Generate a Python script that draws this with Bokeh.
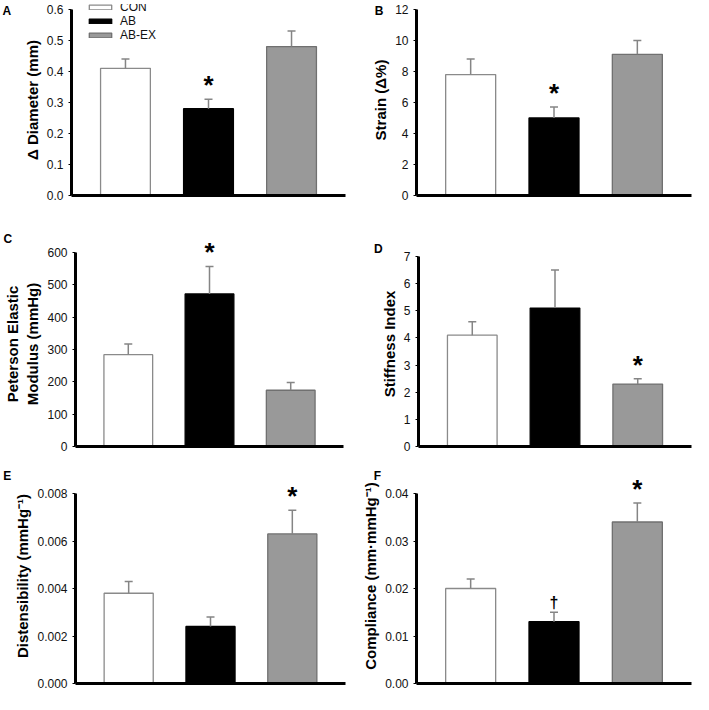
from bokeh.plotting import figure
from bokeh.models import (ColumnDataSource, Range1d, FixedTicker, PrintfTickFormatter,
                          Whisker, TeeHead, Legend, LegendItem, LinearAxis)
from bokeh.layouts import column, row
from bokeh.embed import file_html
from bokeh.resources import INLINE
from bokeh.core.properties import value

# ---------------- data ----------------
groups = ["CON", "AB", "AB-EX"]

diameter = [0.41, 0.28, 0.48]
diameter_err = [0.03, 0.03, 0.05]
diameter_sig = ["", "*", ""]
diameter_ticks = [0.0, 0.1, 0.2, 0.3, 0.4, 0.5, 0.6]

strain = [7.8, 5.0, 9.1]
strain_err = [1.0, 0.7, 0.9]
strain_sig = ["", "*", ""]
strain_ticks = [0, 2, 4, 6, 8, 10, 12]

peterson = [284, 472, 174]
peterson_err = [33, 85, 24]
peterson_sig = ["", "*", ""]
peterson_ticks = [0, 100, 200, 300, 400, 500, 600]

stiffness = [4.1, 5.1, 2.3]
stiffness_err = [0.5, 1.4, 0.2]
stiffness_sig = ["", "", "*"]
stiffness_ticks = [0, 1, 2, 3, 4, 5, 6, 7]

distensibility = [0.0038, 0.0024, 0.0063]
distensibility_err = [0.0005, 0.0004, 0.0010]
distensibility_sig = ["", "", "*"]
distensibility_ticks = [0.000, 0.002, 0.004, 0.006, 0.008]

compliance = [0.0200, 0.0130, 0.0340]
compliance_err = [0.0020, 0.0020, 0.0040]
compliance_sig = ["", "\u2020", "*"]
compliance_ticks = [0.00, 0.01, 0.02, 0.03, 0.04]

# ---------------- style ----------------
FONT = "Liberation Sans"
FILL = ["#ffffff", "#000000", "#999999"]
LINE = ["#8a8a8a", "#000000", "#707070"]
ERR_COLOR = "#858585"
MARK_STYLE = {"*": ("26px", -14), "\u2020": ("16px", -10)}
X0, X1 = 0.35, 3.65
NBSP_W = 0.2778 * 12      # width of a no-break space at 12px


def panel(letter, ytitle, vals, errs, sig, ticks, fmt, W, H, bl, br, ft, bt, bb,
          letter_at, letter_standoff, legend=False):
    # ft: frame top, bt: pixel row of the top tick, bb: bottom border
    fh = H - bb - ft
    axis_h = H - bb - bt
    y_end = ticks[0] + (ticks[-1] - ticks[0]) * fh / axis_h
    p = figure(width=W, height=H, x_range=Range1d(X0, X1),
               y_range=Range1d(ticks[0], y_end),
               output_backend="svg", toolbar_location=None,
               min_border_left=bl, min_border_right=br,
               min_border_top=ft, min_border_bottom=bb)
    p.outline_line_color = None
    p.xgrid.visible = False
    p.ygrid.visible = False
    p.background_fill_color = "white"

    x = list(range(1, len(groups) + 1))
    upper = [v + e for v, e in zip(vals, errs)]
    src = ColumnDataSource(dict(x=x, top=vals, upper=upper, group=groups,
                                fill=FILL, line=LINE))
    r = p.vbar(x="x", top="top", bottom=0, width=0.6, source=src,
               fill_color="fill", line_color="line", line_width=1.3)

    w = Whisker(base="x", lower="top", upper="upper", source=src, dimension="height",
                line_color=ERR_COLOR, line_width=1.5,
                upper_head=TeeHead(size=8, line_color=ERR_COLOR, line_width=1.5),
                lower_head=None, level="glyph")
    p.add_layout(w)

    mx, my, mt, ms, mo = [], [], [], [], []
    for i, s in enumerate(sig):
        if s:
            mx.append(x[i]); my.append(upper[i]); mt.append(s)
            ms.append(MARK_STYLE[s][0]); mo.append(MARK_STYLE[s][1])
    if mx:
        msrc = ColumnDataSource(dict(x=mx, y=my, t=mt, size=ms, off=mo))
        p.text(x="x", y="y", text="t", source=msrc, text_font=value(FONT),
               text_font_style="bold", text_font_size="size", y_offset="off",
               text_align="center", text_baseline="alphabetic", text_color="black")

    ya = p.yaxis[0]
    ya.ticker = FixedTicker(ticks=ticks)
    ya.bounds = (ticks[0], ticks[-1])
    ya.formatter = PrintfTickFormatter(format=fmt)
    ya.axis_label = ytitle
    ya.axis_label_text_font = FONT
    ya.axis_label_text_font_style = "bold"
    ya.axis_label_text_font_size = "15px"
    ya.axis_label_text_color = "black"
    ya.axis_label_standoff = 3
    ya.major_label_text_font = FONT
    ya.major_label_text_font_size = "12px"
    ya.major_label_text_color = "#111111"
    ya.major_label_standoff = 5
    ya.axis_line_width = 3
    ya.axis_line_color = "black"
    ya.major_tick_out = 3
    ya.major_tick_in = 0
    ya.major_tick_line_color = "black"
    ya.minor_tick_line_color = None

    xa = p.xaxis[0]
    xa.ticker = FixedTicker(ticks=[])
    xa.axis_line_width = 3
    xa.axis_line_color = "black"
    xa.major_tick_line_color = None
    xa.minor_tick_line_color = None
    xa.major_label_text_font_size = "0px"
    xa.major_label_standoff = 0

    # panel letter: label of a line-less axis above the frame (centred on the frame);
    # trailing no-break spaces carry the letter out to the left
    cx, cy = letter_at
    frame_mid = bl + (W - bl - br) / 2
    n_pad = max(0, int(round((frame_mid - cx) * 2 / NBSP_W)))
    la = LinearAxis(ticker=FixedTicker(ticks=[]),
                    axis_line_color=None, major_tick_line_color=None,
                    minor_tick_line_color=None, major_tick_out=0, major_tick_in=0,
                    minor_tick_out=0, minor_tick_in=0, major_label_standoff=0,
                    major_label_text_font_size="0px",
                    axis_label=letter + "\u00a0" * n_pad,
                    axis_label_standoff=letter_standoff,
                    axis_label_text_font=FONT, axis_label_text_font_style="bold",
                    axis_label_text_font_size="12px", axis_label_text_color="black")
    p.add_layout(la, "above")

    if legend:
        items = [LegendItem(label=g, renderers=[r], index=i) for i, g in enumerate(groups)]
        leg = Legend(items=items, location=(15, fh - 42), orientation="vertical",
                     glyph_width=28, glyph_height=6, label_height=12, label_width=20,
                     label_standoff=6, spacing=-1, padding=0, margin=0,
                     label_text_font=FONT, label_text_font_size="12px",
                     label_text_color="#111111",
                     border_line_color=None, background_fill_alpha=0)
        p.add_layout(leg)
    return p


pA = panel("A", "\u0394 Diameter (mm)", diameter, diameter_err, diameter_sig,
           diameter_ticks, "%.1f", 346, 227, 71, 1, 0, 5, 32, (6.8, 8.8), -13, legend=True)
pB = panel("B", "Strain (\u0394%)", strain, strain_err, strain_sig,
           strain_ticks, "%d", 346, 227, 70, 1, 0, 5, 32, (31.8, 7.3), -13)
pC = panel("C", "Peterson Elastic\nModulus (mmHg)", peterson, peterson_err, peterson_sig,
           peterson_ticks, "%d", 346, 232, 75, 3, 14, 25, 13, (7.3, 11.4), -4)
pD = panel("D", "Stiffness Index", stiffness, stiffness_err, stiffness_sig,
           stiffness_ticks, "%d", 346, 232, 72, 1, 14, 29, 13, (31.8, 21.2), -14)
pE = panel("E", "Distensibility (mmHg\u207b\u00b9)", distensibility, distensibility_err,
           distensibility_sig, distensibility_ticks, "%.3f", 346, 234, 75, 1, 9, 34, 10,
           (5.9, 15.8), -14)
pF = panel("F", "Compliance (mm\u00b7mmHg\u207b\u00b9)", compliance, compliance_err,
           compliance_sig, compliance_ticks, "%.2f", 346, 234, 70, 1, 9, 34, 10,
           (31.6, 15.8), -14)

layout = column(row(pA, pB, spacing=0), row(pC, pD, spacing=0), row(pE, pF, spacing=0),
                spacing=0)

open("out.html", "w").write(file_html(layout, INLINE))
